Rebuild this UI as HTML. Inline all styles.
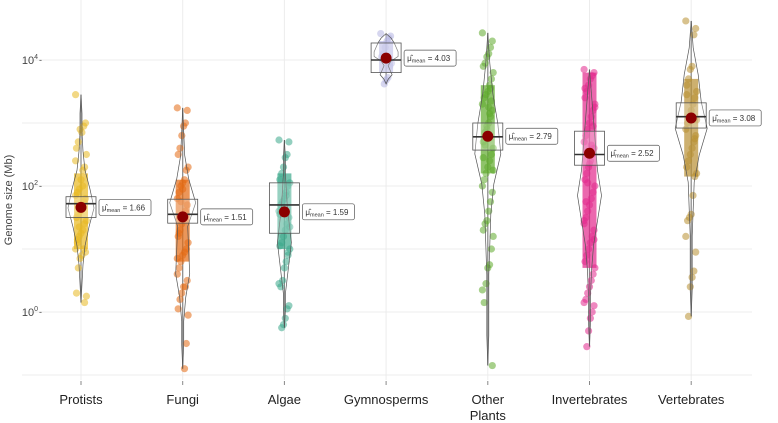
<!DOCTYPE html>
<html><head><meta charset="utf-8">
<style>
html,body{margin:0;padding:0;background:#fff;}
svg{display:block;font-family:"Liberation Sans",sans-serif;}
</style></head>
<body>
<svg id="chart" width="778" height="423" viewBox="0 0 778 423"></svg>
<script>
const categories = ["Protists","Fungi","Algae","Gymnosperms","Other Plants","Invertebrates","Vertebrates"];
const colors = ["#e8b820","#e36a12","#3aa88a","#b4b4e2","#5faa2c","#e2288c","#b88f32"];
const means = [1.66,1.51,1.59,4.03,2.79,2.52,3.08];
const medians = [1.72,1.55,1.70,4.00,2.78,2.50,3.10];
const q1 = [1.50,1.41,1.25,3.80,2.57,2.33,2.92];
const q3 = [1.83,1.79,2.05,4.27,3.00,2.87,3.32];
const whiskLo = [0.15,-0.9,-0.25,3.62,-0.85,-0.55,-0.07];
const whiskHi = [3.45,3.24,2.73,4.42,4.43,3.85,4.62];
const denseLo = [1.0,0.8,1.0,3.8,2.2,0.7,2.15];
const denseHi = [2.2,2.1,2.2,4.3,3.6,3.8,3.7];
const points = [
 [3.45,3.0,2.95,2.85,2.9,2.7,2.6,2.5,2.3,2.25,2.1,1.95,1.9,1.85,1.8,1.75,1.7,1.6,1.55,1.5,1.45,1.4,1.3,1.25,1.2,1.1,1.0,0.95,1.0,0.9,0.85,0.7,0.3,0.25,0.15,2.0,1.65,1.35,1.15,2.4],
 [3.24,3.2,3.0,2.95,2.8,2.6,2.5,2.3,2.25,2.1,2.05,2.0,1.9,1.8,1.7,1.6,1.5,1.4,1.3,1.2,1.1,1.0,0.95,0.9,0.8,0.7,0.6,0.5,0.4,0.4,0.3,0.2,0.05,-0.05,-0.5,-0.9,1.95,1.75,1.25,0.85],
 [2.73,2.7,2.5,2.45,2.3,2.2,2.1,2.05,2.0,1.9,1.8,1.75,1.7,1.6,1.5,1.4,1.3,1.2,1.1,1.05,1.0,0.9,0.8,0.7,0.5,0.4,0.45,0.1,0.05,-0.1,-0.2,-0.25,1.55,1.35,0.95,1.85],
 [4.42,4.38,4.35,4.3,4.2,4.1,4.05,3.95,3.9,3.72,3.68,3.62],
 [4.43,4.3,4.2,4.1,4.05,3.95,3.9,3.8,3.7,3.6,3.5,3.45,3.4,3.3,3.2,3.1,3.0,2.9,2.85,2.7,2.6,2.5,2.4,2.3,2.2,2.1,2.0,1.9,1.75,1.6,1.45,1.4,1.3,1.2,1.0,0.75,0.7,0.45,0.15,0.35,-0.85,3.55,3.25,2.95,2.65,2.45,2.25,3.35,3.15,2.75],
 [3.85,3.8,3.75,3.7,3.6,3.5,3.4,3.3,3.2,3.1,3.0,2.9,2.8,2.7,2.6,2.5,2.4,2.3,2.2,2.1,2.0,1.9,1.8,1.7,1.6,1.5,1.4,1.3,1.2,1.1,1.0,0.9,0.8,0.7,0.6,0.5,0.4,0.3,0.2,0.15,0.1,0.0,-0.1,-0.3,-0.55,3.55,3.25,2.95,2.65,2.35,2.05,1.75,1.45,1.15],
 [4.62,4.5,4.4,3.9,3.85,3.7,3.6,3.5,3.4,3.3,3.2,3.1,3.0,2.9,2.8,2.7,2.6,2.5,2.4,2.3,2.2,2.15,1.85,1.55,1.5,1.45,1.2,0.95,0.65,0.55,0.4,-0.07,3.45,3.05,2.75]
];
const violinW = [
 [0,1,2,4,8,13,9,4,2,1,1,0],
 [0,1,1,3,7,6,5,13,6,2,1,0],
 [0,1,1,3,5,7,5,3,2,1,1,0],
 [0,2,6,4,2,5,12,12,10,8,5,0],
 [0,1,1,1,2,3,6,13,10,5,2,0],
 [0,1,1,2,4,8,12,8,6,4,2,0],
 [0,1,1,1,2,3,8,16,10,7,2,0]
];
const yTicks = [0,2,4];

const svg = document.getElementById('chart');
const NS = "http://www.w3.org/2000/svg";
const X0 = 81, DX = 101.7;
const xS = i => X0 + i*DX;
const yS = v => 312 - 63*v;
function mk(tag, attrs, parent){
  const e = document.createElementNS(NS, tag);
  for (const k in attrs) e.setAttribute(k, attrs[k]);
  (parent||svg).appendChild(e);
  return e;
}
const grid = mk('g',{});


for (let v=-1; v<=4; v++){
  const l = mk('line',{x1:22,x2:752,y1:yS(v),y2:yS(v),stroke:'#ececec','stroke-width':1},grid);
  
  
}
categories.forEach((c,i)=>{
  const l = mk('line',{x1:xS(i),x2:xS(i),y1:0,y2:380,stroke:'#ececec','stroke-width':1},grid);
  
  
});
yTicks.forEach(v=>{
  const t = mk('text',{x:38,y:yS(v)+4,'font-size':11,fill:'#444','text-anchor':'end'});
  
  
  t.textContent = '10';
  const s = mk('tspan',{'font-size':7,dy:-5},t); s.textContent = String(v);
  const d = mk('text',{x:39,y:yS(v)+3,'font-size':9,fill:'#444'}); d.textContent='-';
});
const yt = mk('text',{x:0,y:0,'font-size':11,fill:'#444','text-anchor':'middle',transform:'translate(12,200) rotate(-90)'});


yt.textContent = 'Genome size (Mb)';

categories.forEach((c,i)=>{
  const g = mk('g',{});
  
  
  const x = xS(i);
  mk('line',{x1:x,x2:x,y1:yS(whiskLo[i]),y2:yS(whiskHi[i]),stroke:'#888','stroke-width':1.2},g);
  const band = mk('rect',{x:x-7,y:yS(denseHi[i]),width:14,height:yS(denseLo[i])-yS(denseHi[i]),fill:colors[i],opacity:0.7},g);
  
  
  points[i].forEach((v,j)=>{
    const off = ((j*37)%13 - 6)*0.9;
    const p = mk('circle',{cx:x+off,cy:yS(v),r:3.6,fill:colors[i],'fill-opacity':0.55},g);
    
    
  });
  const w = violinW[i], n = w.length;
  let dR='', dL='';
  for (let k=0;k<n;k++){
    const v = whiskLo[i] + (whiskHi[i]-whiskLo[i])*k/(n-1);
    dR += (k?'L':'M')+(x+w[k])+','+yS(v);
  }
  for (let k=n-1;k>=0;k--){
    const v = whiskLo[i] + (whiskHi[i]-whiskLo[i])*k/(n-1);
    dL += 'L'+(x-w[k])+','+yS(v);
  }
  const vi = mk('path',{d:dR+dL+'Z',fill:'none',stroke:'#555','stroke-width':0.7},g);
  
  
  const bx = mk('rect',{x:x-15,y:yS(q3[i]),width:30,height:yS(q1[i])-yS(q3[i]),fill:'rgba(255,255,255,0.25)',stroke:'#555','stroke-width':0.8},g);
  
  
  mk('line',{x1:x-15,x2:x+15,y1:yS(medians[i]),y2:yS(medians[i]),stroke:'#333','stroke-width':1.6},g);
  const m = mk('circle',{cx:x,cy:yS(means[i]),r:5.5,fill:'#8b0000'},g);
  
  
  const lx = x+18, ly = yS(means[i]);
  const lb = mk('rect',{x:lx,y:ly-8,width:52,height:16,rx:2,fill:'#fff',stroke:'#555','stroke-width':0.7},g);
  
  
  const t = mk('text',{x:lx+3,y:ly+3,'font-size':8,fill:'#333'},g);
  t.textContent = 'μ̂';
  const s1 = mk('tspan',{'font-size':5.5,dy:1.5},t); s1.textContent='mean';
  const s2 = mk('tspan',{dy:-1.5},t); s2.textContent=' = '+means[i].toFixed(2);
  const parts = c==='Other Plants' ? ['Other','Plants'] : [c];
  parts.forEach((p,k)=>{
    const xl = mk('text',{x:x,y:404+k*16,'font-size':13,fill:'#222','text-anchor':'middle'});
    
    
    xl.textContent = p;
  });
  mk('line',{x1:x,x2:x,y1:381,y2:385,stroke:'#888'});
});
</script>
</body></html>
